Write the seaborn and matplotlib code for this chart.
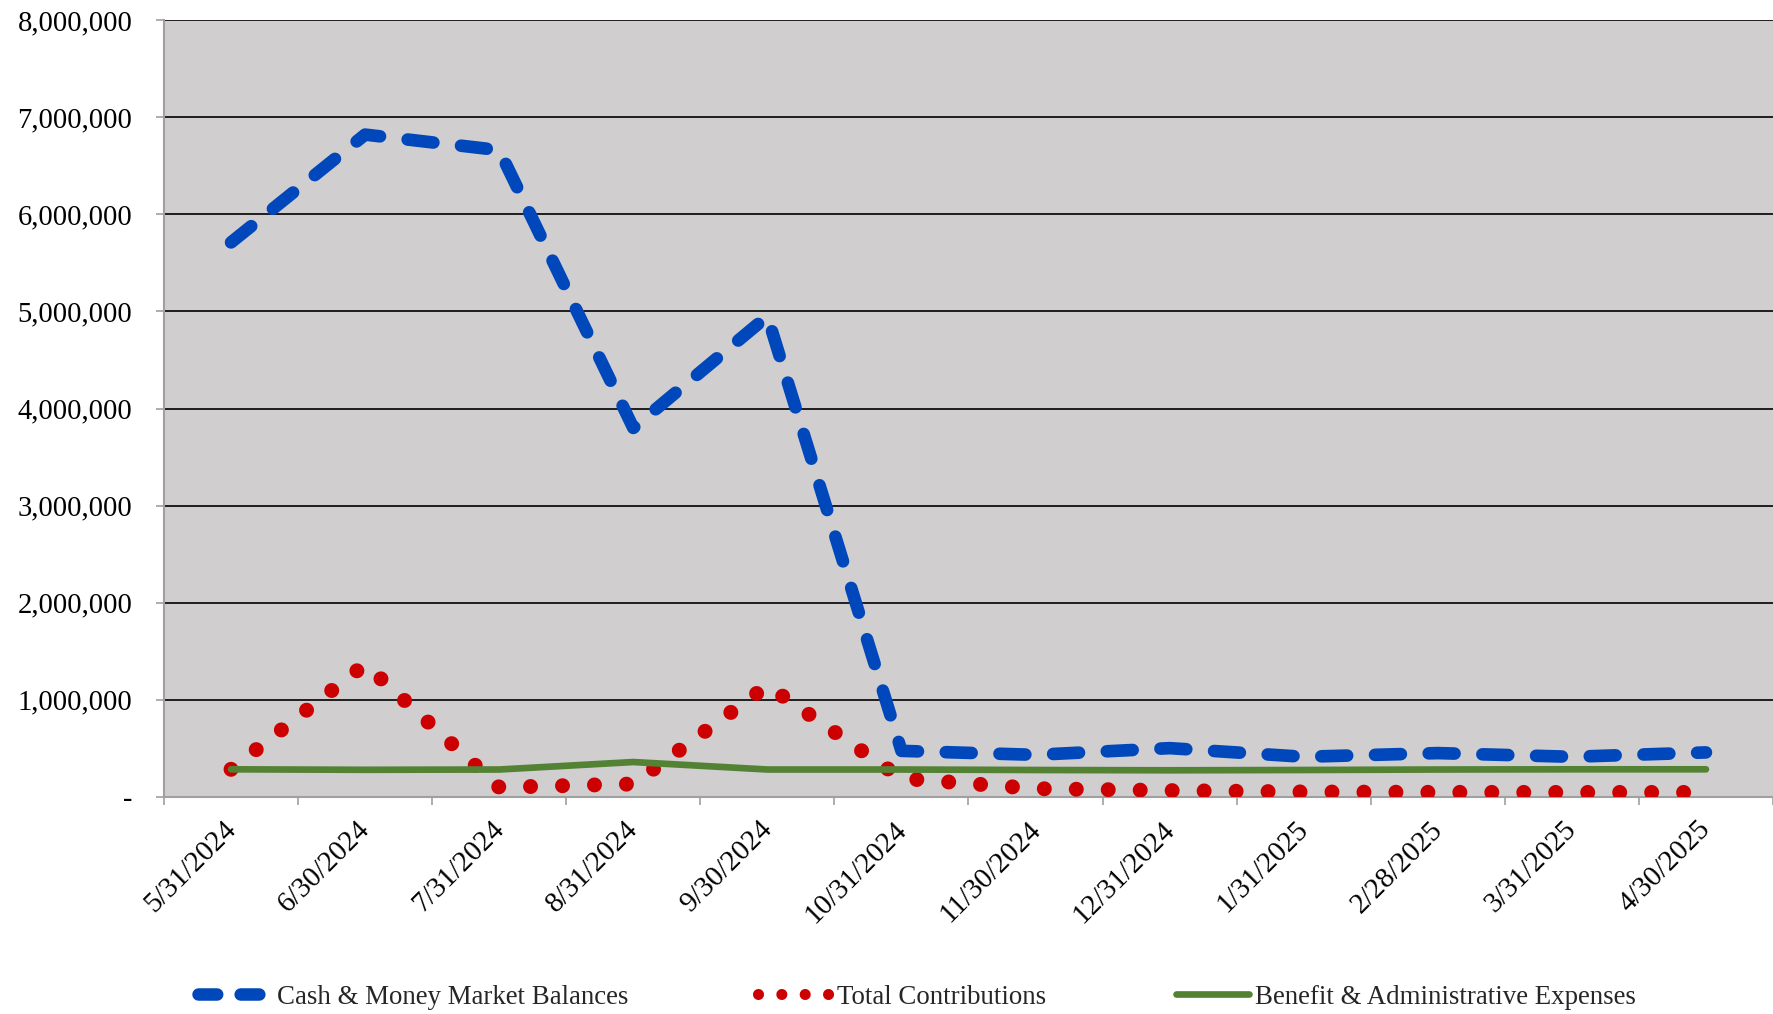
import numpy as np
import pandas as pd
import matplotlib
matplotlib.use("Agg")
import matplotlib.pyplot as plt
import matplotlib.transforms as mtransforms
from matplotlib.lines import Line2D
from matplotlib.ticker import FuncFormatter, FixedLocator
import seaborn as sns

# Month-end balances and flows
month_ends = ["5/31/2024", "6/30/2024", "7/31/2024", "8/31/2024", "9/30/2024",
              "10/31/2024", "11/30/2024", "12/31/2024", "1/31/2025", "2/28/2025",
              "3/31/2025", "4/30/2025"]
cash_balances = [5710000, 6820000, 6660000, 3800000, 4950000, 475000,
                 434000, 503000, 414000, 452000, 414000, 459000]
total_contributions = [285000, 1366000, 100000, 134000, 1147000, 192000,
                       86000, 66000, 52000, 48000, 47000, 47000]
benefit_admin_expenses = [285000, 280000, 283000, 360000, 283000, 283000,
                          278000, 275000, 278000, 283000, 285000, 285000]

series_names = ["Cash & Money Market Balances", "Total Contributions",
                "Benefit & Administrative Expenses"]

BLUE = "#0047BB"
RED = "#CC0000"
GREEN = "#548235"
GRID_GREY = "#A0A0A0"

sns.set_theme(style="white")
plt.rcParams["font.family"] = ["Liberation Serif", "DejaVu Serif"]

W, H = 1774, 1014
fig = plt.figure(figsize=(W / 100, H / 100), dpi=100)
ax = fig.add_axes([164 / W, 1 - 797 / H, (1773 - 164) / W, (797 - 20) / H])
ax.set_facecolor("#D0CECF")

pos = np.arange(len(month_ends))
df = pd.DataFrame({
    "pos": pos,
    "cash": cash_balances,
    "contrib": total_contributions,
    "benefit": benefit_admin_expenses,
})

sns.lineplot(data=df, x="pos", y="cash", ax=ax, color=BLUE, linewidth=9.1,
             linestyle=(0, (2.05, 2.2)), dash_capstyle="round",
             solid_joinstyle="round", zorder=3)
sns.lineplot(data=df, x="pos", y="contrib", ax=ax, color=RED, linewidth=10.8,
             linestyle=(0, (0.001, 2.13)), dash_capstyle="round", zorder=4)
sns.lineplot(data=df, x="pos", y="benefit", ax=ax, color=GREEN, linewidth=4.8,
             solid_capstyle="round", zorder=5)

ax.set_xlabel("")
ax.set_ylabel("")

# y axis
ax.set_ylim(0, 8000000)
ax.yaxis.set_major_locator(FixedLocator(np.arange(0, 8000001, 1000000)))
ax.yaxis.set_major_formatter(FuncFormatter(lambda v, _: "-" if v == 0 else f"{v:,.0f}"))
ax.grid(axis="y", color="black", linewidth=1.2)
ax.grid(axis="x", visible=False)
ax.set_axisbelow(True)
ax.tick_params(axis="y", which="major", left=True, length=5.8, width=1.2,
               color=GRID_GREY, direction="out", pad=17, labelsize=20.6,
               labelcolor="black")

# x axis: labels at category centres, tick marks on category boundaries
ax.set_xlim(-0.5, len(month_ends) - 0.5)
ax.set_xticks(pos)
ax.set_xticklabels(month_ends)
ax.set_xticks(np.arange(len(month_ends) + 1) - 0.5, minor=True)
ax.tick_params(axis="x", which="major", length=0, pad=14, labelsize=20.8,
               labelcolor="black")
ax.tick_params(axis="x", which="minor", bottom=True, length=5.8, width=1.2,
               color=GRID_GREY, direction="out")
shift = mtransforms.ScaledTranslation(0.10, 0, fig.dpi_scale_trans)
for lab in ax.get_xticklabels():
    lab.set_rotation(45)
    lab.set_ha("right")
    lab.set_va("top")
    lab.set_transform(lab.get_transform() + shift)

for side in ("top", "right"):
    ax.spines[side].set_visible(False)
for side in ("left", "bottom"):
    ax.spines[side].set_color(GRID_GREY)
    ax.spines[side].set_linewidth(1.5)

handles = [
    Line2D([], [], color=BLUE, linewidth=9, linestyle=(0, (1.5, 1.87)),
           dash_capstyle="round"),
    Line2D([], [], color=RED, linewidth=8, linestyle=(0, (0.001, 2.1)),
           dash_capstyle="round"),
    Line2D([], [], color=GREEN, linewidth=4.8, solid_capstyle="round"),
]
fig.legend(handles, series_names, loc="center",
           bbox_to_anchor=(917 / W, 1 - 997 / H), ncol=3, frameon=False,
           fontsize=19.4, handlelength=2.7, handletextpad=0.25,
           columnspacing=4.8)

fig.savefig("out.png", dpi=100)
